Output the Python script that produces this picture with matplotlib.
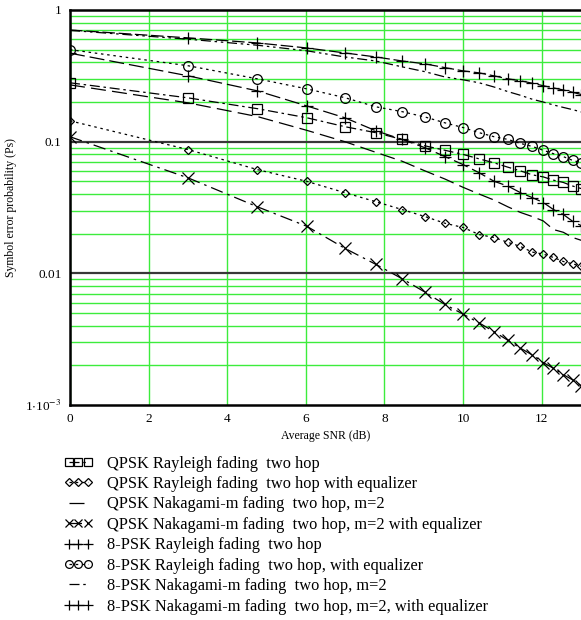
import matplotlib
matplotlib.use('Agg')
import matplotlib.pyplot as plt
import numpy as np
from matplotlib.ticker import FixedLocator, LogLocator, NullFormatter, FixedFormatter

plt.rcParams['font.family'] = ['Liberation Serif', 'DejaVu Serif']
plt.rcParams['mathtext.fontset'] = 'stix'

# SNR points (dB) -> 10log10 of 1..20
snr_db = [0.0, 3.01, 4.77, 6.02, 6.99, 7.78, 8.45, 9.03, 9.54, 10.0,
          10.41, 10.79, 11.14, 11.46, 11.76, 12.04, 12.30, 12.55, 12.79, 13.01]

qpsk_ray = [0.28, 0.215, 0.178, 0.152, 0.13, 0.117, 0.104, 0.093, 0.086, 0.080,
            0.074, 0.069, 0.064, 0.060, 0.056, 0.054, 0.051, 0.049, 0.046, 0.044]
qpsk_ray_eq = [0.144, 0.087, 0.0613, 0.050, 0.041, 0.035, 0.0305, 0.027, 0.024, 0.0223,
               0.0197, 0.0187, 0.0172, 0.016, 0.0145, 0.014, 0.0132, 0.0123, 0.0118, 0.0113]
qpsk_nak = [0.27, 0.197, 0.155, 0.122, 0.100, 0.083, 0.071, 0.060, 0.052, 0.045,
            0.040, 0.036, 0.032, 0.029, 0.027, 0.025, 0.0215, 0.0205, 0.0187, 0.0178]
qpsk_nak_eq = [0.109, 0.053, 0.032, 0.0228, 0.0155, 0.0117, 0.0091, 0.0072, 0.0058, 0.0049,
               0.0042, 0.0036, 0.0031, 0.0027, 0.0024, 0.0021, 0.0019, 0.0017, 0.00155, 0.0014]
psk8_ray = [0.705, 0.614, 0.562, 0.515, 0.472, 0.44, 0.41, 0.39, 0.365, 0.345,
            0.333, 0.316, 0.30, 0.29, 0.278, 0.266, 0.256, 0.247, 0.237, 0.228]
psk8_ray_eq = [0.50, 0.377, 0.30, 0.252, 0.216, 0.184, 0.169, 0.154, 0.139, 0.128,
               0.117, 0.109, 0.104, 0.097, 0.092, 0.086, 0.081, 0.077, 0.072, 0.069]
psk8_nak = [0.70, 0.60, 0.54, 0.49, 0.44, 0.41, 0.37, 0.34, 0.31, 0.295,
            0.28, 0.26, 0.24, 0.225, 0.21, 0.20, 0.19, 0.182, 0.175, 0.168]
psk8_nak_eq = [0.47, 0.316, 0.243, 0.187, 0.152, 0.121, 0.104, 0.09, 0.077, 0.067,
               0.058, 0.050, 0.046, 0.041, 0.0376, 0.0345, 0.0305, 0.028, 0.0248, 0.023]

labels = ['QPSK Rayleigh fading  two hop',
          'QPSK Rayleigh fading  two hop with equalizer',
          'QPSK Nakagami-m fading  two hop, m=2',
          'QPSK Nakagami-m fading  two hop, m=2 with equalizer',
          '8-PSK Rayleigh fading  two hop',
          '8-PSK Rayleigh fading  two hop, with equalizer',
          '8-PSK Nakagami-m fading  two hop, m=2',
          '8-PSK Nakagami-m fading  two hop, m=2, with equalizer']

series = [qpsk_ray, qpsk_ray_eq, qpsk_nak, qpsk_nak_eq,
          psk8_ray, psk8_ray_eq, psk8_nak, psk8_nak_eq]
styles = [((0, (8, 3, 2, 3)), 's', 6.5),
          ((0, (2, 3)), 'D', 4.5),
          ((0, (12, 5)), None, 0),
          ((0, (10, 4, 2, 4)), 'x', 8),
          ((0, (10, 3)), '+', 9),
          ((0, (2, 3)), 'o', 7),
          ((0, (8, 3, 2, 3, 2, 3)), None, 0),
          ((0, (12, 4)), '+', 9)]

fig = plt.figure(figsize=(5.81, 6.20), dpi=100)
ax = fig.add_axes([70 / 581, 1 - 405 / 620, 1 - 70 / 581, 395 / 620])

ax.set_yscale('log')
ax.set_xlim(0, 13)
ax.set_ylim(1e-3, 1)

green = '#3cec3c'
ax.xaxis.set_major_locator(FixedLocator([0, 2, 4, 6, 8, 10, 12]))
ax.yaxis.set_major_locator(FixedLocator([1e-3, 1e-2, 1e-1, 1]))
ax.yaxis.set_major_formatter(FixedFormatter([r'1$\cdot$10$^{-3}$', '0.01', '0.1', '1']))
ax.yaxis.set_minor_locator(LogLocator(base=10, subs=np.arange(2, 10)))
ax.yaxis.set_minor_formatter(NullFormatter())
ax.grid(True, axis='x', which='major', color=green, lw=1.0)
ax.grid(True, axis='y', which='minor', color=green, lw=1.0)
for yv in [0.01, 0.1]:
    ax.axhline(yv, color='#383838', lw=1.6, zorder=1.5)
ax.set_axisbelow(True)
ax.tick_params(which='both', length=0, labelsize=9.5, pad=6)

for sp in ['left', 'bottom', 'top']:
    ax.spines[sp].set_linewidth(1.8)
    ax.spines[sp].set_color('black')
ax.spines['right'].set_visible(False)

for y, (ls, mk, ms), lab in zip(series, styles, labels):
    ax.plot(snr_db, y, color='black', lw=0.9, linestyle=ls, marker=mk,
            markersize=ms, markerfacecolor='none', markeredgecolor='black',
            markeredgewidth=0.9, label=lab)

ax.set_xlabel('Average SNR (dB)', fontsize=8.5, labelpad=3)
ax.set_ylabel('Symbol error probability (Ps)', fontsize=8.5, labelpad=6)

handles, labs = ax.get_legend_handles_labels()
fig.legend(handles, labs, loc='upper left', bbox_to_anchor=(58 / 581, 1 - 449 / 620),
           frameon=False, numpoints=3, handlelength=1.7, handletextpad=0.9,
           labelspacing=0.27, fontsize=11.8, markerscale=0.8, borderaxespad=0)

fig.savefig('out.png', dpi=100)
